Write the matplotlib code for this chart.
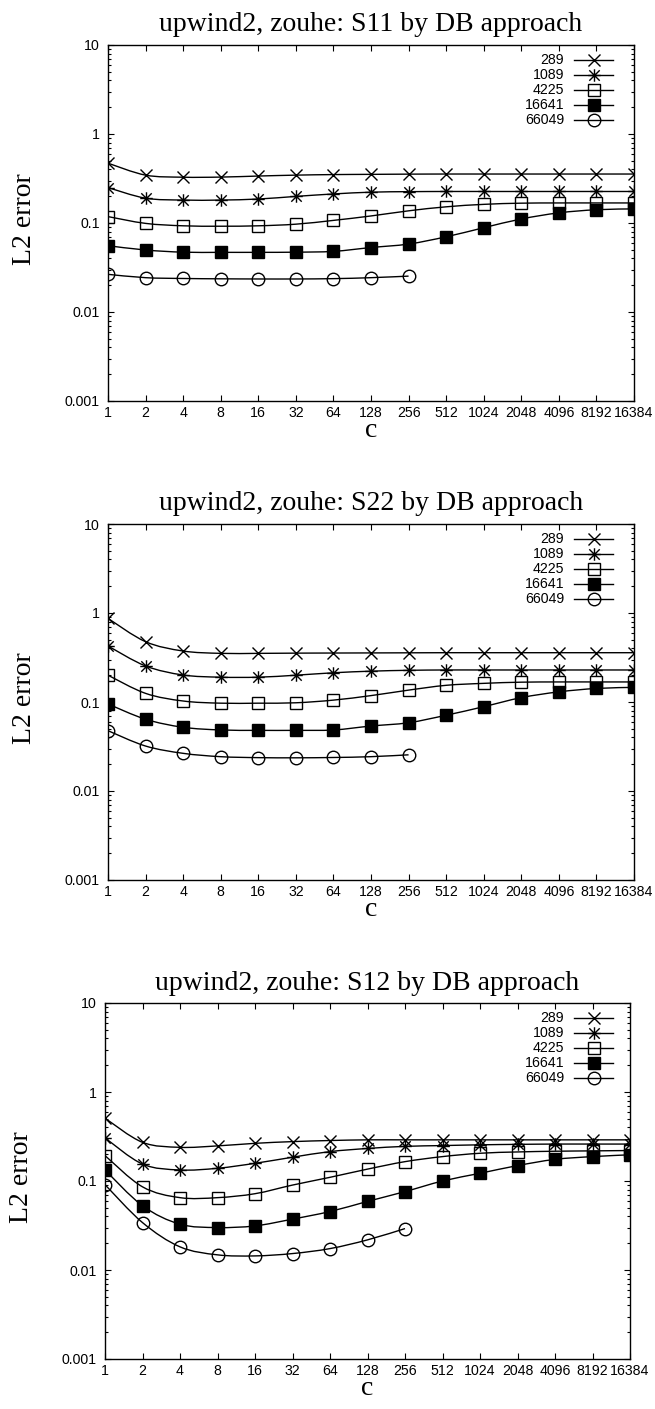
import numpy as np
import matplotlib
matplotlib.use("Agg")
import matplotlib.pyplot as plt
from matplotlib.path import Path
from matplotlib.patches import PathPatch
from matplotlib.ticker import FixedLocator, LogLocator, NullFormatter, FuncFormatter

# relaxation parameter c
c_vals = [1, 2, 4, 8, 16, 32, 64, 128, 256, 512, 1024, 2048, 4096, 8192, 16384]
meshes = ["289", "1089", "4225", "16641", "66049"]

# S11
s11_289 = [0.47, 0.345, 0.327, 0.328, 0.337, 0.345, 0.35, 0.352, 0.354, 0.355, 0.355, 0.355, 0.355, 0.355, 0.355]
s11_1089 = [0.25, 0.19, 0.181, 0.181, 0.186, 0.199, 0.212, 0.222, 0.225, 0.226, 0.226, 0.226, 0.226, 0.226, 0.226]
s11_4225 = [0.118, 0.099, 0.093, 0.092, 0.093, 0.097, 0.107, 0.12, 0.137, 0.152, 0.162, 0.167, 0.168, 0.168, 0.168]
s11_16641 = [0.0556, 0.0497, 0.047, 0.0468, 0.0468, 0.047, 0.048, 0.053, 0.058, 0.070, 0.0885, 0.111, 0.13, 0.141, 0.144]
s11_66049 = [0.0265, 0.0243, 0.0238, 0.0236, 0.0235, 0.0235, 0.0237, 0.0243, 0.0253]

# S22
s22_289 = [0.87, 0.476, 0.374, 0.352, 0.352, 0.354, 0.355, 0.356, 0.357, 0.358, 0.358, 0.358, 0.358, 0.358, 0.358]
s22_1089 = [0.426, 0.254, 0.201, 0.19, 0.19, 0.2, 0.213, 0.222, 0.227, 0.229, 0.229, 0.229, 0.229, 0.229, 0.229]
s22_4225 = [0.2, 0.125, 0.1026, 0.097, 0.097, 0.098, 0.105, 0.118, 0.136, 0.154, 0.162, 0.167, 0.168, 0.168, 0.168]
s22_16641 = [0.095, 0.064, 0.052, 0.0485, 0.048, 0.048, 0.0485, 0.0537, 0.0585, 0.071, 0.0886, 0.112, 0.13, 0.142, 0.146]
s22_66049 = [0.0476, 0.032, 0.0265, 0.0243, 0.0237, 0.0236, 0.0238, 0.0243, 0.0255]

# S12
s12_289 = [0.508, 0.272, 0.239, 0.248, 0.265, 0.277, 0.285, 0.29, 0.29, 0.29, 0.29, 0.29, 0.29, 0.29, 0.29]
s12_1089 = [0.305, 0.155, 0.133, 0.139, 0.158, 0.185, 0.214, 0.232, 0.245, 0.25, 0.255, 0.258, 0.26, 0.26, 0.26]
s12_4225 = [0.193, 0.086, 0.065, 0.065, 0.072, 0.09, 0.11, 0.136, 0.165, 0.188, 0.205, 0.212, 0.216, 0.218, 0.22]
s12_16641 = [0.133, 0.0527, 0.0327, 0.030, 0.0313, 0.0373, 0.0454, 0.059, 0.076, 0.1, 0.122, 0.149, 0.175, 0.188, 0.197]
s12_66049 = [0.091, 0.0341, 0.0182, 0.0148, 0.0144, 0.0153, 0.0174, 0.0218, 0.0292]

panels = [
    ("upwind2, zouhe: S11 by DB approach", [s11_289, s11_1089, s11_4225, s11_16641, s11_66049]),
    ("upwind2, zouhe: S22 by DB approach", [s22_289, s22_1089, s22_4225, s22_16641, s22_66049]),
    ("upwind2, zouhe: S12 by DB approach", [s12_289, s12_1089, s12_4225, s12_16641, s12_66049]),
]

# gnuplot-style star: an x with a + on top of it
star = Path([(-1, -1), (1, 1), (-1, 1), (1, -1), (0, -1.2), (0, 1.2), (-1.2, 0), (1.2, 0)],
            [Path.MOVETO, Path.LINETO] * 4)

markers = [
    dict(marker="x", mfc="none", ms=9, mew=1.0),
    dict(marker=star, mfc="none", ms=9, mew=1.0),
    dict(marker="s", mfc="none", ms=8.5, mew=1.0),
    dict(marker="s", mfc="black", ms=8.5, mew=1.0),
    dict(marker="o", mfc="none", ms=9, mew=1.0),
]

serif = ["Liberation Serif", "DejaVu Serif"]
sans = ["Liberation Sans", "DejaVu Sans"]
plt.rcParams["font.family"] = sans


def smooth_path(xs, ys):
    # Catmull-Rom curve through the points, in log2(c) / log10(err) space
    pts = np.column_stack([np.log2(xs), np.log10(ys)])
    n = len(pts)
    verts = [pts[0]]
    codes = [Path.MOVETO]
    for i in range(n - 1):
        p0 = pts[max(i - 1, 0)]
        p1 = pts[i]
        p2 = pts[i + 1]
        p3 = pts[min(i + 2, n - 1)]
        verts += [p1 + (p2 - p0) / 6, p2 - (p3 - p1) / 6, p2]
        codes += [Path.CURVE4] * 3
    verts = np.array(verts)
    return Path(np.column_stack([2 ** verts[:, 0], 10 ** verts[:, 1]]), codes)


W, H = 655, 1409
fig = plt.figure(figsize=(W / 100, H / 100), dpi=100)

frames = [(108, 634, 45), (108, 634, 524), (105, 630, 1003)]
ph = 356
big = 20
small = 10.2

for (title, series), (x0, x1, top) in zip(panels, frames):
    ax = fig.add_axes([x0 / W, 1 - (top + ph) / H, (x1 - x0) / W, ph / H])
    ax.set_xscale("log", base=2)
    ax.set_yscale("log")
    ax.set_xlim(1, 16384)
    ax.set_ylim(0.001, 10)

    for vals, mk in zip(series, markers):
        xs = c_vals[:len(vals)]
        ax.add_patch(PathPatch(smooth_path(xs, vals), fill=False, ec="black", lw=1.0))
        ax.plot(xs, vals, ls="none", color="black", mec="black", **mk)

    ax.xaxis.set_major_locator(FixedLocator(c_vals))
    ax.xaxis.set_major_formatter(FuncFormatter(lambda v, p: f"{int(round(v))}"))
    ax.xaxis.set_minor_locator(FixedLocator([]))
    ax.yaxis.set_major_locator(FixedLocator([0.001, 0.01, 0.1, 1, 10]))
    ax.yaxis.set_major_formatter(FuncFormatter(lambda v, p: f"{v:g}"))
    ax.yaxis.set_minor_locator(LogLocator(base=10, subs=np.arange(2, 10), numticks=20))
    ax.yaxis.set_minor_formatter(NullFormatter())
    ax.tick_params(which="both", direction="in", top=True, right=True, labelsize=small, colors="black")
    ax.tick_params(which="major", length=4.5, width=0.8)
    ax.tick_params(which="minor", length=2.5, width=0.8)
    ax.tick_params(axis="x", which="major", pad=3.5)
    ax.tick_params(axis="y", which="major", pad=6)
    for s in ax.spines.values():
        s.set_linewidth(1.0)

    ax.text(0.5, 1 + 20 / ph, title, transform=ax.transAxes, ha="center", va="center",
            fontsize=big, family=serif)
    ax.text(0.5, -36 / ph, "c", transform=ax.transAxes, ha="center", va="baseline",
            fontsize=big, family=serif)
    ax.text(-83 / (x1 - x0), 0.5 + 4 / ph, "L2 error", transform=ax.transAxes, rotation=90,
            ha="center", va="center", fontsize=big, family=serif)

    # key in the upper right corner: label, then a line sample with its marker
    aw = x1 - x0
    for i, (lab, mk) in enumerate(zip(meshes, markers)):
        yk = 1 - (15 + 15 * i) / ph
        ax.text((564 - x0) / aw, yk, lab, transform=ax.transAxes, ha="right", va="center",
                fontsize=small)
        ax.plot([(574 - x0) / aw, (613 - x0) / aw], [yk, yk], transform=ax.transAxes,
                color="black", lw=1.0, clip_on=False)
        ax.plot([(593.5 - x0) / aw], [yk], transform=ax.transAxes, ls="none",
                color="black", mec="black", clip_on=False, **mk)

fig.savefig("out.png", dpi=100)
